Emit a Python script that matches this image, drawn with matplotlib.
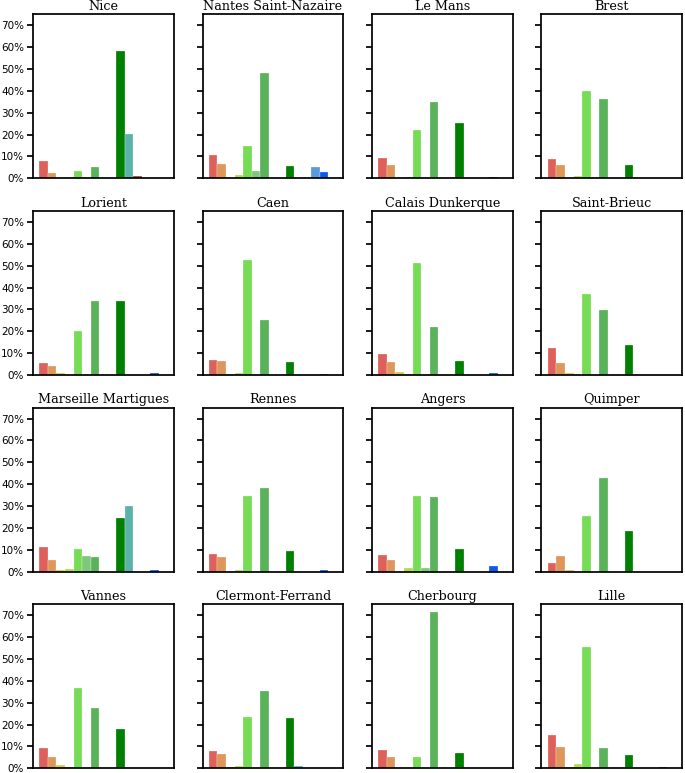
import matplotlib
matplotlib.use("Agg")
import matplotlib.pyplot as plt
from matplotlib.ticker import PercentFormatter

# 15 category slots (values in %), colours per slot
slot_colors = ["#de605a", "#de965a", "#d8c850", "#b4d850", "#76dc55", "#7dc87d",
               "#5ab25a", "#999999", "#999999", "#008000", "#5ab2a8", "#8b4a1c",
               "#5a9bdc", "#0a5af0", "#999999"]

cities = ["Nice", "Nantes Saint-Nazaire", "Le Mans", "Brest",
          "Lorient", "Caen", "Calais Dunkerque", "Saint-Brieuc",
          "Marseille Martigues", "Rennes", "Angers", "Quimper",
          "Vannes", "Clermont-Ferrand", "Cherbourg", "Lille"]

nice       = [7.8, 2.5, 0.0, 0.5, 3.5, 0.0, 5.2, 0, 0, 58.0, 20.1, 0.9, 0.0, 0.0, 0]
nantes     = [10.6, 6.6, 0.3, 1.5, 14.9, 3.4, 48.1, 0, 0, 5.8, 0.0, 0.0, 5.4, 2.8, 0]
le_mans    = [9.3, 6.3, 0.0, 0.5, 22.2, 0.0, 34.8, 0, 0, 25.3, 0.0, 0.0, 0.0, 0.6, 0]
brest      = [9.0, 6.3, 0.0, 1.2, 40.0, 0.0, 36.1, 0, 0, 6.3, 0.0, 0.0, 0.0, 0.3, 0]
lorient    = [5.5, 4.3, 1.1, 0.0, 19.9, 0.0, 33.7, 0, 0, 33.7, 0.0, 0.0, 0.0, 1.1, 0]
caen       = [6.9, 6.6, 0.3, 0.9, 52.8, 0.0, 25.0, 0, 0, 6.1, 0.0, 0.0, 0.0, 0.4, 0]
calais     = [9.6, 6.0, 1.5, 0.5, 51.0, 0.0, 21.9, 0, 0, 6.6, 0.0, 0.0, 0.0, 1.0, 0]
st_brieuc  = [12.4, 5.7, 0.7, 0.0, 37.1, 0.0, 29.6, 0, 0, 13.9, 0.0, 0.0, 0.0, 0.0, 0]
marseille  = [11.5, 5.5, 0.6, 1.4, 10.3, 7.2, 6.9, 0, 0, 24.7, 30.2, 0.0, 0.0, 0.9, 0]
rennes     = [8.1, 6.7, 0.0, 0.6, 34.5, 0.0, 38.3, 0, 0, 9.6, 0.0, 0.0, 0.0, 0.9, 0]
angers     = [7.8, 5.4, 0.0, 1.8, 34.5, 1.7, 34.0, 0, 0, 10.3, 0.0, 0.0, 0.0, 2.5, 0]
quimper    = [3.8, 7.2, 0.8, 0.0, 25.4, 0.0, 42.9, 0, 0, 18.8, 0.0, 0.0, 0.0, 0.0, 0]
vannes     = [9.2, 5.4, 1.7, 0.8, 36.7, 0.0, 27.8, 0, 0, 17.9, 0.0, 0.0, 0.0, 0.0, 0]
clermont   = [8.0, 6.6, 0.4, 1.1, 23.5, 0.0, 35.6, 0, 0, 22.9, 1.1, 0.0, 0.0, 0.2, 0]
cherbourg  = [8.4, 5.4, 0.3, 0.3, 5.4, 0.0, 71.4, 0, 0, 7.2, 0.3, 0.0, 0.0, 0.0, 0]
lille      = [15.3, 9.8, 0.8, 1.8, 55.5, 0.0, 9.5, 0, 0, 6.0, 0.0, 0.0, 0.0, 0.8, 0]

values = [nice, nantes, le_mans, brest, lorient, caen, calais, st_brieuc,
          marseille, rennes, angers, quimper, vannes, clermont, cherbourg, lille]

fig, axes = plt.subplots(4, 4, figsize=(6.85, 7.73), dpi=100, sharey=True)
fig.subplots_adjust(left=0.0482, right=0.9961, top=0.9815, bottom=0.0060,
                    wspace=0.2035, hspace=0.199)

for ax, city, vals in zip(axes.flat, cities, values):
    x = list(range(len(vals)))
    ax.bar(x, vals, width=1.0, color=slot_colors,
           edgecolor=(1, 1, 1, 0.55), linewidth=0.35)
    ax.set_xlim(-1.25, len(vals) - 1 + 1.25)
    ax.set_title(city, family="DejaVu Serif", fontsize=9.2, pad=3)
    ax.set_xticks([])
    for s in ax.spines.values():
        s.set_linewidth(1.25)
        s.set_color("black")
    ax.tick_params(axis="y", direction="out", length=4.5, width=1.25,
                   labelsize=7.5, pad=2, colors="black")

ax0 = axes[0, 0]
ax0.set_ylim(0, 75)
ax0.set_yticks([0, 10, 20, 30, 40, 50, 60, 70])
ax0.yaxis.set_major_formatter(PercentFormatter(decimals=0))

fig.savefig("out.png", dpi=100)
